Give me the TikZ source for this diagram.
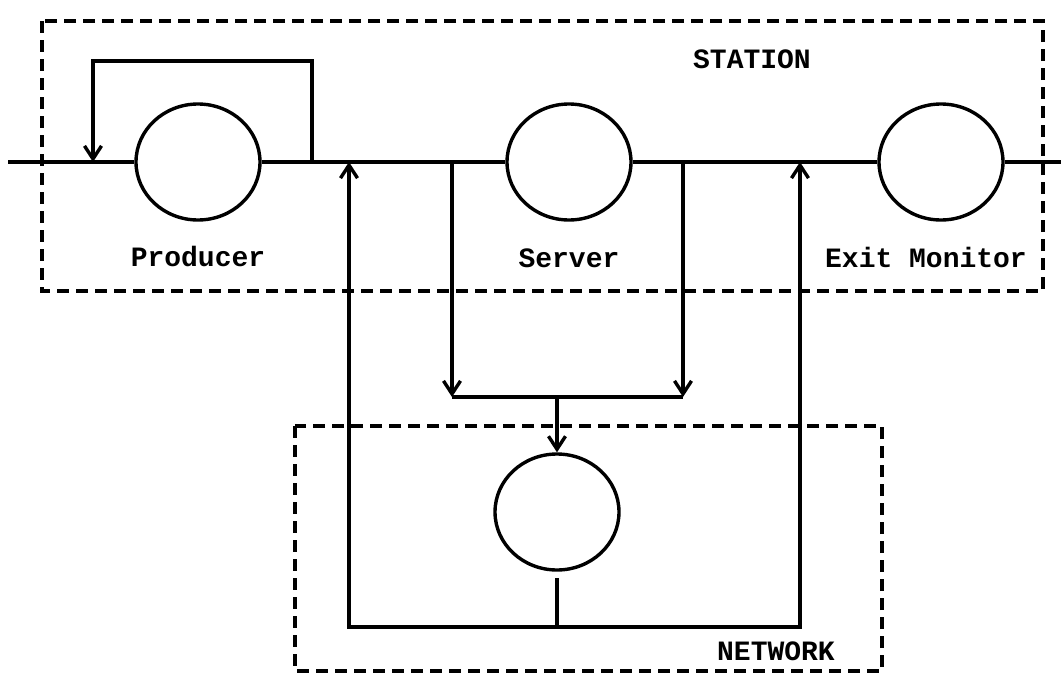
\documentclass[tikz,border=0pt]{standalone}
\usepackage{fontspec}
\setmonofont{Liberation Mono}
\usetikzlibrary{arrows.meta,shapes.geometric}
\begin{document}
\begin{tikzpicture}[x=1pt,y=-1pt,line width=3.4pt,
  queue/.style={draw,ellipse,minimum width=124pt,minimum height=116pt,inner sep=0pt},
  lbl/.style={font=\fontsize{28}{30}\selectfont\ttfamily\bfseries,inner sep=0pt},
  box/.style={draw,dash pattern=on 12pt off 7pt,line width=3.4pt},
  arr/.style={-{Straight Barb[length=13pt,width=17pt,line width=3.4pt]}}]
\useasboundingbox (0,0) rectangle (1061,680);
% boxes
\draw[box] (42,21) rectangle (1043,291);
\draw[box] (295,426) rectangle (882,671);
% queues
\node[queue] (prod) at (198,162) {};
\node[queue] (serv) at (569,162) {};
\node[queue] (exitm) at (941,162) {};
\node[queue] (netq) at (557,512) {};
% labels
\node[lbl] (plab) at (198,256) {Producer};
\node[lbl] (slab) at (569,258) {Server};
\node[lbl] (elab) at (926,257) {Exit Monitor};
\node[lbl] (stlab) at (752,59) {STATION};
\node[lbl] (nlab) at (776,651) {NETWORK};
% coordinates
\coordinate (inL) at (8,162);
\coordinate (outR) at (1061,162);
\coordinate (fbR) at (312,162);
\coordinate (fbRt) at (312,61);
\coordinate (fbLt) at (93,61);
\coordinate (fbL) at (93,162);
\coordinate (d1) at (452,162);
\coordinate (d1b) at (452,397);
\coordinate (d2) at (683,162);
\coordinate (d2b) at (683,397);
\coordinate (mid) at (557,397);
\coordinate (stemTop) at (557,578);
\coordinate (stemBot) at (557,627);
\coordinate (lb) at (349,627);
\coordinate (lt) at (349,162);
\coordinate (rb) at (800,627);
\coordinate (rt) at (800,162);
% main line
\draw (inL) -- (prod);
\draw (prod) -- (serv);
\draw (serv) -- (exitm);
\draw (exitm) -- (outR);
% feedback loop
\draw[arr] (fbR) -- (fbRt) -- (fbLt) -- (fbL);
% to network
\draw[arr] (d1) -- (d1b);
\draw[arr] (d2) -- (d2b);
\draw (d1b) -- (d2b);
\draw[arr] (mid) -- (netq.north);
% from network
\draw (stemTop) -- (stemBot);
\draw[arr] (stemBot) -- (lb) -- (lt);
\draw[arr] (stemBot) -- (rb) -- (rt);
\end{tikzpicture}
\end{document}
